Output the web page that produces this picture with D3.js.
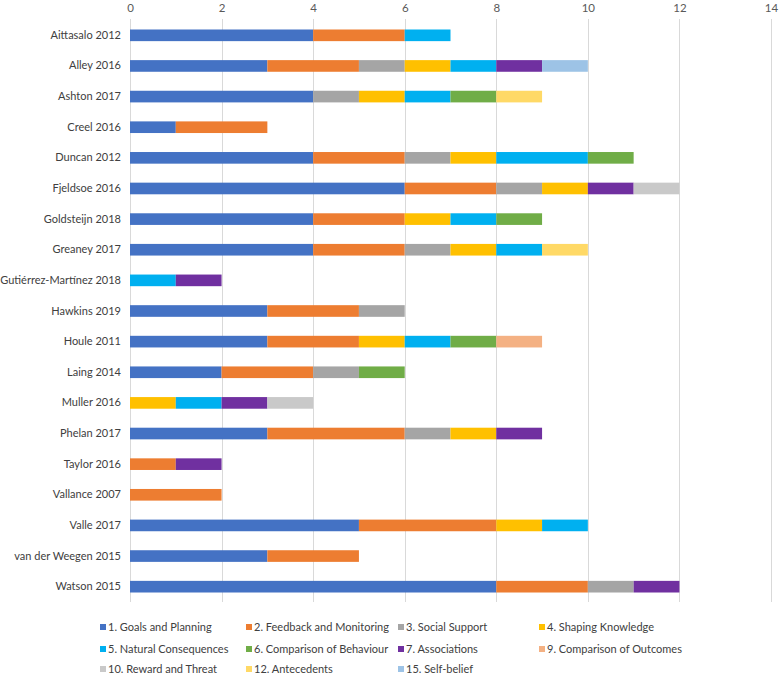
<!DOCTYPE html>
<html>
<head>
<meta charset="utf-8">
<script src="https://cdn.jsdelivr.net/npm/d3@7"></script>
<style>
  html, body { margin: 0; padding: 0; background: #fff; }
  svg { display: block; font-family: Lato, "Liberation Sans", sans-serif; }
</style>
</head>
<body>
<svg id="chart" width="780" height="676"></svg>
<script>
// ---- Data ----
const studies = ["Aittasalo 2012","Alley 2016","Ashton 2017","Creel 2016","Duncan 2012","Fjeldsoe 2016","Goldsteijn 2018","Greaney 2017","Gutiérrez-Martínez 2018","Hawkins 2019","Houle 2011","Laing 2014","Muller 2016","Phelan 2017","Taylor 2016","Vallance 2007","Valle 2017","van der Weegen 2015","Watson 2015"];
const seriesNames = ["1. Goals and Planning","2. Feedback and Monitoring","3. Social Support","4. Shaping Knowledge","5. Natural Consequences","6. Comparison of Behaviour","7. Associations","9. Comparison of Outcomes","10. Reward and Threat","12. Antecedents","15. Self-belief"];
const seriesColors = ["#4472C4","#ED7D31","#A5A5A5","#FFC000","#00B0F0","#70AD47","#7030A0","#F4B183","#C9C9C9","#FFD966","#9DC3E6"];
// one array per series, values in study order
const goalsPlanning      = [4,3,4,1,4,6,4,4,0,3,3,2,0,3,0,0,5,3,8];
const feedbackMonitoring = [2,2,0,2,2,2,2,2,0,2,2,2,0,3,1,2,3,2,2];
const socialSupport      = [0,1,1,0,1,1,0,1,0,1,0,1,0,1,0,0,0,0,1];
const shapingKnowledge   = [0,1,1,0,1,1,1,1,0,0,1,0,1,1,0,0,1,0,0];
const naturalConseq      = [1,1,1,0,2,0,1,1,1,0,1,0,1,0,0,0,1,0,0];
const comparisonBehav    = [0,0,1,0,1,0,1,0,0,0,1,1,0,0,0,0,0,0,0];
const associations       = [0,1,0,0,0,1,0,0,1,0,0,0,1,1,1,0,0,0,1];
const comparisonOutc     = [0,0,0,0,0,0,0,0,0,0,1,0,0,0,0,0,0,0,0];
const rewardThreat       = [0,0,0,0,0,1,0,0,0,0,0,0,1,0,0,0,0,0,0];
const antecedents        = [0,0,1,0,0,0,0,1,0,0,0,0,0,0,0,0,0,0,0];
const selfBelief         = [0,1,0,0,0,0,0,0,0,0,0,0,0,0,0,0,0,0,0];
const xTicks = [0,2,4,6,8,10,12,14];

const seriesValues = [goalsPlanning,feedbackMonitoring,socialSupport,shapingKnowledge,naturalConseq,comparisonBehav,associations,comparisonOutc,rewardThreat,antecedents,selfBelief];

// ---- Build table for stack ----
const keys = seriesNames;
const table = studies.map((s, i) => {
  const row = { study: s };
  keys.forEach((k, j) => row[k] = seriesValues[j][i]);
  return row;
});
const stacked = d3.stack().keys(keys)(table);

// ---- Layout ----
const svg = d3.select("#chart");
const mLeft = 130, mRight = 771, mTop = 20, mBottom = 602;

const x = d3.scaleLinear().domain([0, 14]).range([mLeft, mRight]);
const y = d3.scaleBand().domain(studies).range([mTop, mBottom]).paddingInner(0.62).paddingOuter(0.31);
const color = d3.scaleOrdinal().domain(keys).range(seriesColors);

// gridlines
svg.append("g").selectAll("line").data(xTicks).join("line")
  .attr("x1", d => Math.round(x(d)) + 0.5).attr("x2", d => Math.round(x(d)) + 0.5)
  .attr("y1", mTop - 1).attr("y2", mBottom)
  .attr("stroke", "#d9d9d9").attr("stroke-width", 1);

// top axis labels
const xAxis = d3.axisTop(x).tickValues(xTicks).tickSize(0).tickPadding(0);
const gx = svg.append("g").attr("transform", `translate(0, 12)`).call(xAxis);
gx.select(".domain").remove();
gx.selectAll("text").attr("fill", "#595959").style("font-size", "11.5px")
  .style("font-family", "Lato, sans-serif").attr("dy", "0");

// bars
svg.append("g").selectAll("g").data(stacked).join("g")
  .attr("fill", d => color(d.key))
  .selectAll("rect").data(d => d).join("rect")
  .attr("x", d => x(d[0]))
  .attr("y", d => y(d.data.study))
  .attr("width", d => x(d[1]) - x(d[0]))
  .attr("height", y.bandwidth());

// left labels
const yAxis = d3.axisLeft(y).tickSize(0).tickPadding(9);
const gy = svg.append("g").attr("transform", `translate(${mLeft}, 0)`).call(yAxis);
gy.select(".domain").remove();
gy.selectAll("text").attr("fill", "#404040").style("font-size", "11px")
  .style("font-family", "Lato, sans-serif");

// legend
const legCols = [100, 246, 398, 539];
const legRows = [627, 649, 669];
const leg = svg.append("g").selectAll("g").data(keys).join("g")
  .attr("transform", (d, i) => `translate(${legCols[i % 4]}, ${legRows[Math.floor(i / 4)]})`);
leg.append("rect").attr("x", 0).attr("y", -3).attr("width", 6).attr("height", 6)
  .attr("fill", d => color(d));
leg.append("text").attr("x", 8).attr("y", 0).attr("dy", "0.35em")
  .attr("fill", "#404040").style("font-size", "11px").text(d => d);
</script>
</body>
</html>
